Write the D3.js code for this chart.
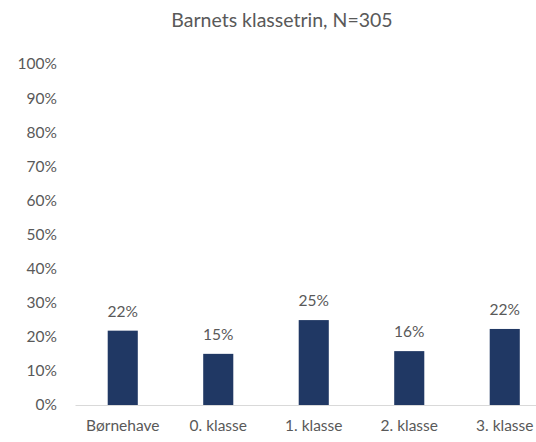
<!DOCTYPE html>
<html>
<head>
<meta charset="utf-8">
<script src="https://cdn.jsdelivr.net/npm/d3@7"></script>
<style>
  body { margin: 0; background: #fff; }
  text { font-family: Lato, "Open Sans", sans-serif; fill: #595959; }
</style>
</head>
<body>
<svg class="chart"></svg>
<script>
// data
const categories = ['Børnehave', '0. klasse', '1. klasse', '2. klasse', '3. klasse'];
const values = [21.8, 15.0, 24.9, 15.8, 22.3];
const valueLabels = ['22%', '15%', '25%', '16%', '22%'];
const yTicks = [0, 10, 20, 30, 40, 50, 60, 70, 80, 90, 100];

const width = 536;
const height = 442;

const svg = d3.select('.chart')
  .attr('width', width)
  .attr('height', height);

// x-scale (the plot runs past the right edge like the original)
const x = d3.scaleBand()
  .domain(categories)
  .range([75, 552.5])
  .paddingInner(0.685)
  .paddingOuter(0.3425);

const y = d3.scaleLinear()
  .domain([0, 100])
  .range([405, 64]);

// title
svg.append('text')
  .attr('x', 282)
  .attr('y', 27)
  .attr('text-anchor', 'middle')
  .style('font-size', '19.5px')
  .text('Barnets klassetrin, N=305');

// y axis labels
const yAxis = svg.append('g')
  .attr('transform', 'translate(57, 0)')
  .call(d3.axisLeft(y).tickValues(yTicks).tickSize(0).tickPadding(0).tickFormat(d => d + '%'));
yAxis.select('.domain').remove();
yAxis.selectAll('text').style('font-size', '15.5px').attr('fill', '#595959');

// bars
svg.selectAll('.bar')
  .data(values)
  .enter().append('rect')
  .attr('class', 'bar')
  .attr('x', (d, i) => x(categories[i]))
  .attr('width', x.bandwidth())
  .attr('y', d => y(d))
  .attr('height', d => y(0) - y(d))
  .attr('fill', '#203864');

// value labels
svg.selectAll('.val')
  .data(values)
  .enter().append('text')
  .attr('class', 'val')
  .attr('x', (d, i) => x(categories[i]) + x.bandwidth() / 2)
  .attr('y', d => y(d) - 14)
  .attr('text-anchor', 'middle')
  .style('font-size', '15.5px')
  .text((d, i) => valueLabels[i]);

// x axis
const xAxis = svg.append('g')
  .attr('transform', `translate(0, ${y(0)})`)
  .call(d3.axisBottom(x).tickSize(0).tickPadding(15));
xAxis.select('.domain').attr('stroke', '#d9d9d9').attr('stroke-width', 1);
xAxis.selectAll('text').style('font-size', '15.5px').attr('fill', '#595959');
</script>
</body>
</html>
